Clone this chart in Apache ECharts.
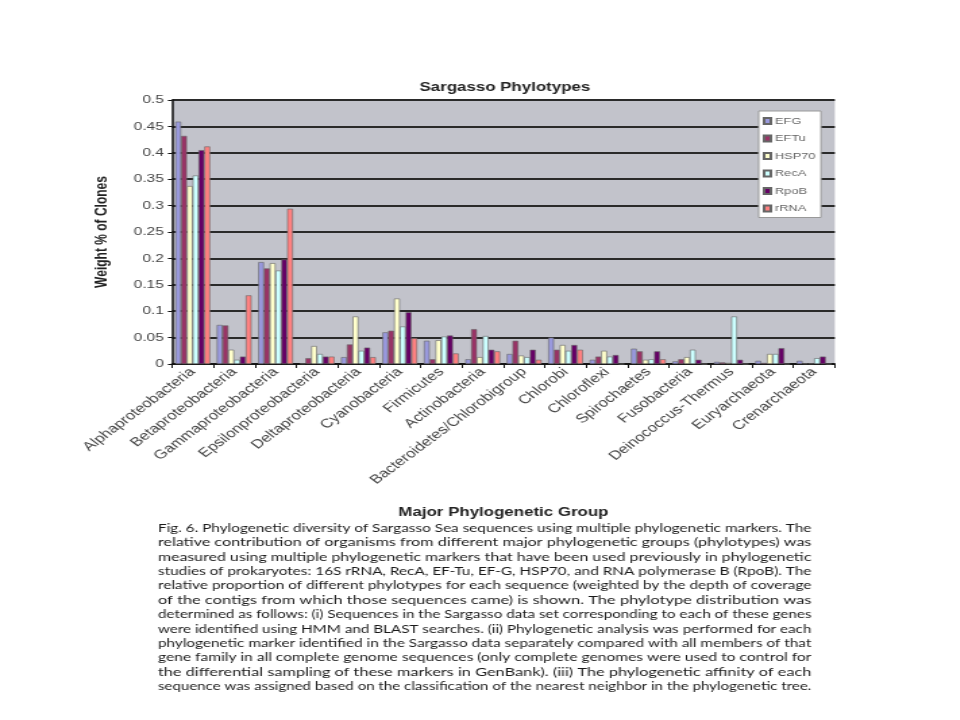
<!DOCTYPE html>
<html><head><meta charset="utf-8">
<script src="https://cdn.jsdelivr.net/npm/echarts@6/dist/echarts.min.js"></script>
<style>html,body{margin:0;padding:0;background:#fff;overflow:hidden}
#wrap{width:960px;height:720px;overflow:hidden}
#c{width:711px;height:720px;transform:scaleX(1.35);transform-origin:0 0}</style>
</head><body><div id="wrap"><div id="c"></div></div>
<script>
const categories = ["Alphaproteobacteria","Betaproteobacteria","Gammaproteobacteria","Epsilonproteobacteria","Deltaproteobacteria","Cyanobacteria","Firmicutes","Actinobacteria","Bacteroidetes/Chlorobigroup","Chlorobi","Chloroflexi","Spirochaetes","Fusobacteria","Deinococcus-Thermus","Euryarchaeota","Crenarchaeota"];
const seriesNames = ["EFG","EFTu","HSP70","RecA","RpoB","rRNA"];
const EFG  = [0.459,0.074,0.193,0.001,0.013,0.060,0.044,0.009,0.019,0.050,0.008,0.029,0.005,0.004,0.006,0.006];
const EFTu = [0.432,0.073,0.181,0.011,0.037,0.063,0.009,0.066,0.044,0.027,0.014,0.024,0.009,0.003,0.002,0.001];
const HSP70= [0.337,0.027,0.191,0.034,0.090,0.124,0.045,0.013,0.016,0.036,0.025,0.008,0.013,0.002,0.019,0.001];
const RecA = [0.357,0.008,0.177,0.019,0.025,0.071,0.052,0.053,0.013,0.025,0.014,0.009,0.027,0.090,0.019,0.011];
const RpoB = [0.405,0.014,0.198,0.014,0.031,0.098,0.054,0.027,0.027,0.036,0.017,0.024,0.008,0.008,0.030,0.014];
const rRNA = [0.412,0.130,0.294,0.014,0.013,0.049,0.020,0.024,0.008,0.027,0.000,0.009,0.000,0.000,0.000,0.000];
const yTicks = ["0","0.05","0.1","0.15","0.2","0.25","0.3","0.35","0.4","0.45","0.5"];
const captionLines = [
"Fig. 6. Phylogenetic diversity of Sargasso Sea sequences using multiple phylogenetic markers. The",
"relative contribution of organisms from different major phylogenetic groups (phylotypes) was",
"measured using multiple phylogenetic markers that have been used previously in phylogenetic",
"studies of prokaryotes: 16S rRNA, RecA, EF-Tu, EF-G, HSP70, and RNA polymerase B (RpoB). The",
"relative proportion of different phylotypes for each sequence (weighted by the depth of coverage",
"of the contigs from which those sequences came) is shown. The phylotype distribution was",
"determined as follows: (i) Sequences in the Sargasso data set corresponding to each of these genes",
"were identified using HMM and BLAST searches. (ii) Phylogenetic analysis was performed for each",
"phylogenetic marker identified in the Sargasso data separately compared with all members of that",
"gene family in all complete genome sequences (only complete genomes were used to control for",
"the differential sampling of these markers in GenBank). (iii) The phylogenetic affinity of each",
"sequence was assigned based on the classification of the nearest neighbor in the phylogenetic tree."
];
const colors = ["#9999dd","#993366","#ffffcc","#ccffff","#660066","#ff8080"];
const data = [EFG,EFTu,HSP70,RecA,RpoB,rRNA];

const capFont = '11.5px Lato';
const capLeft = 117, capWidth = 484;
const ctx = document.createElement('canvas').getContext('2d');
ctx.font = capFont;
const graphics = captionLines.map((t,i)=>{
  const w = ctx.measureText(t).width;
  return {type:'text', x:capLeft, y:522 + i*14.4, scaleX: capWidth / w, originX: 0, originY: 0,
    style:{text:t, font:capFont, fill:'#1a1a1a'}};
});

const chart = echarts.init(document.getElementById('c'));
chart.setOption({
  animation:false,
  color:colors,
  title:{text:'Sargasso Phylotypes', left:369, top:76, textAlign:'center',
    textStyle:{fontFamily:'Liberation Sans', fontSize:12.5, fontWeight:'bold', color:'#222'}},
  legend:{orient:'vertical', left:562, top:111, itemWidth:5, itemHeight:6, itemGap:7.5,
    backgroundColor:'#fff', borderColor:'#999', borderWidth:1, padding:[5,4,4,3],
    textStyle:{fontFamily:'Liberation Sans', fontSize:9.5, color:'#666', padding:[0,0,0,-2]},
    icon:'rect', data:seriesNames},
  grid:{left:127.4, right:92.6, top:100, bottom:356, backgroundColor:'#c2c3cb', show:true, borderWidth:0},
  xAxis:{type:'category', data:categories, boundaryGap:true,
    axisLine:{lineStyle:{color:'#111', width:1.5}},
    axisTick:{show:true, length:4, lineStyle:{color:'#111'}},
    axisLabel:{rotate:45, interval:0, margin:6, fontFamily:'Liberation Sans', fontSize:12.5, color:'#444'},
    name:'Major Phylogenetic Group', nameLocation:'middle', nameGap:142,
    nameTextStyle:{fontFamily:'Liberation Sans', fontSize:12.5, fontWeight:'bold', color:'#222'}},
  yAxis:{type:'value', min:0, max:0.5, interval:0.05,
    axisLine:{show:true, lineStyle:{color:'#111', width:1.5}},
    axisTick:{show:true, length:3, lineStyle:{color:'#111'}},
    splitLine:{lineStyle:{color:'#2a2a2a', width:1.8}},
    axisLabel:{fontFamily:'Liberation Sans', fontSize:11.5, color:'#444', margin:6,
      formatter:(v)=>{const i=Math.round(v/0.05); return yTicks[i]!==undefined?yTicks[i]:'';}},
    name:'Weight % of Clones', nameLocation:'middle', nameGap:46,
    nameTextStyle:{fontFamily:'Liberation Sans', fontSize:12, fontWeight:'bold', color:'#222'}},
  graphic:graphics,
  series:data.map((d,i)=>({
    name:seriesNames[i], type:'bar', data:d, barGap:'0%', barCategoryGap:'16%',
    itemStyle:{color:colors[i], borderColor:'#666', borderWidth:0.6}
  }))
});
</script></body></html>
